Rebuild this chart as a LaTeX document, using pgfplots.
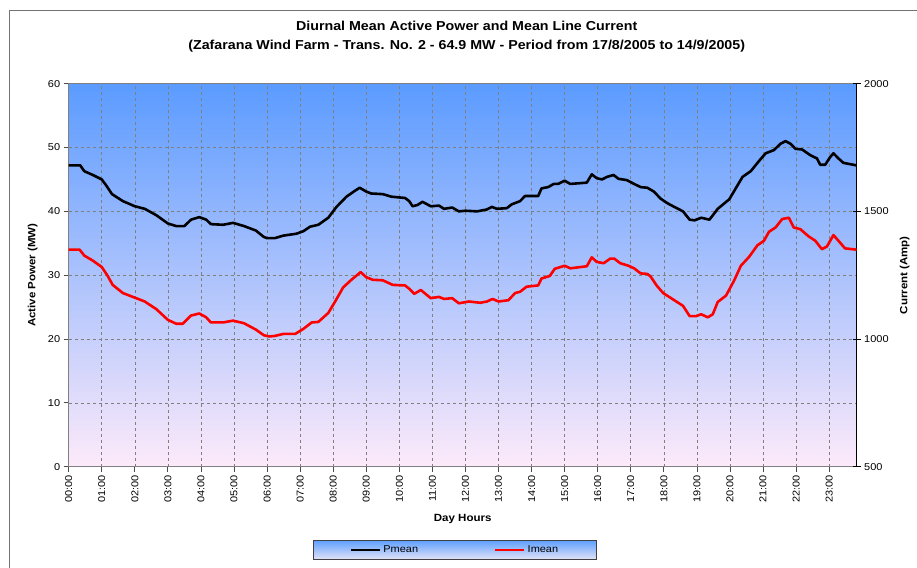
\documentclass[border=0pt]{standalone}
\usepackage{pgfplots}
\pgfplotsset{compat=1.18}
\usepackage{pgfplotstable}
\usepackage{fontspec}
\setmainfont{Liberation Sans}[FakeStretch=1.1]
\definecolor{bgtop}{RGB}{91,155,255}
\definecolor{bgmid}{RGB}{135,192,252}
\definecolor{bgbot}{RGB}{253,234,250}
\definecolor{lgtop}{RGB}{95,160,255}
\definecolor{lgbot}{RGB}{228,228,246}
\definecolor{gridgray}{RGB}{128,128,128}

\pgfplotstableread{
h P
0 47.2
0.35 47.2
0.47 46.3
0.73 45.7
1.0 45.0
1.13 44.1
1.31 42.7
1.64 41.6
2.0 40.8
2.3 40.4
2.65 39.4
3.0 38.1
3.25 37.7
3.5 37.7
3.7 38.7
3.95 39.1
4.16 38.7
4.3 38.0
4.67 37.9
4.97 38.2
5.3 37.7
5.66 37.0
5.9 36.0
6.0 35.8
6.23 35.8
6.49 36.2
6.89 36.5
7.1 36.9
7.3 37.6
7.55 37.9
7.85 39.0
8.1 40.7
8.4 42.3
8.65 43.2
8.8 43.7
9.0 43.1
9.15 42.8
9.5 42.7
9.76 42.3
10.17 42.1
10.3 41.6
10.4 40.8
10.55 41.0
10.7 41.5
10.95 40.8
11.2 40.9
11.35 40.4
11.6 40.6
11.8 40.0
12.0 40.1
12.35 40.0
12.65 40.3
12.8 40.7
12.95 40.4
13.25 40.5
13.4 41.1
13.65 41.6
13.8 42.4
14.2 42.4
14.3 43.6
14.5 43.8
14.67 44.3
14.8 44.3
15.0 44.8
15.17 44.3
15.67 44.5
15.82 45.8
15.97 45.2
16.13 45.0
16.28 45.4
16.48 45.7
16.63 45.1
16.88 44.9
17.1 44.3
17.3 43.8
17.5 43.7
17.7 43.1
17.9 42.0
18.1 41.3
18.28 40.8
18.58 40.0
18.78 38.7
18.93 38.6
19.13 39.0
19.38 38.7
19.63 40.4
19.98 41.9
20.38 45.4
20.63 46.3
20.88 47.9
21.08 49.1
21.33 49.6
21.53 50.6
21.68 51.0
21.83 50.6
21.98 49.8
22.18 49.7
22.43 48.8
22.63 48.3
22.73 47.3
22.88 47.3
23.03 48.5
23.13 49.1
23.28 48.3
23.43 47.6
23.8333 47.2
}\pmean

\pgfplotstableread{
h I
0 1350
0.33 1350
0.47 1327
0.73 1307
1.0 1282
1.18 1247
1.33 1212
1.64 1180
2.0 1162
2.3 1147
2.65 1117
3.0 1075
3.25 1060
3.45 1060
3.7 1092
3.95 1100
4.16 1085
4.3 1065
4.67 1065
4.97 1072
5.3 1062
5.66 1037
5.9 1015
6.06 1010
6.23 1012
6.49 1020
6.85 1020
7.1 1040
7.35 1065
7.55 1067
7.85 1102
8.05 1145
8.3 1202
8.55 1232
8.83 1262
9.0 1242
9.2 1232
9.5 1230
9.8 1212
10.17 1210
10.3 1197
10.45 1177
10.65 1192
10.95 1160
11.2 1165
11.35 1157
11.6 1160
11.8 1140
12.1 1147
12.45 1142
12.65 1147
12.82 1157
13.0 1147
13.3 1152
13.5 1180
13.65 1185
13.85 1205
14.2 1210
14.3 1237
14.55 1247
14.7 1275
15.0 1287
15.17 1277
15.67 1285
15.82 1320
15.97 1302
16.18 1297
16.38 1315
16.5 1315
16.68 1297
16.93 1287
17.1 1277
17.3 1257
17.5 1255
17.6 1245
17.78 1210
17.98 1180
18.28 1155
18.58 1130
18.78 1090
18.98 1090
19.13 1097
19.33 1085
19.48 1097
19.63 1145
19.88 1170
20.13 1230
20.33 1287
20.58 1322
20.83 1367
21.03 1385
21.18 1420
21.38 1437
21.58 1470
21.78 1475
21.93 1437
22.13 1430
22.38 1402
22.58 1385
22.78 1352
22.93 1362
23.13 1407
23.28 1385
23.48 1355
23.8333 1350
}\imean

\begin{document}
\begin{tikzpicture}
\path[use as bounding box] (-68.7bp,-101.3bp) rectangle (848.3bp,466.7bp);
\draw[black!55, line width=0.8bp] (-59.7bp,-101.3bp) -- (-59.7bp,456bp) -- (848.3bp,456bp);
\begin{axis}[
  at={(0,0)}, anchor=south west,
  scale only axis, width=788bp, height=383bp,
  xmin=0, xmax=23.8333, ymin=0, ymax=60,
  xtick={0,...,23},
  xticklabels={00:00,01:00,02:00,03:00,04:00,05:00,06:00,07:00,08:00,09:00,10:00,11:00,12:00,13:00,14:00,15:00,16:00,17:00,18:00,19:00,20:00,21:00,22:00,23:00},
  ytick={0,10,...,60},
  grid=major,
  major grid style={gridgray, dash pattern=on 3bp off 3bp, line width=0.6bp},
  axis background/.style={top color=bgtop, middle color=bgmid, bottom color=bgbot},
  axis line style={gridgray, line width=0.8bp},
  tick style={black!70, line width=0.8bp},
  tick align=outside, tick pos=left, major tick length=5bp,
  /pgf/number format/assume math mode=true,
  ticklabel style={font=\fontsize{10}{12}\selectfont},
  xticklabel style={rotate=90, anchor=east},
  every axis y label/.style={at={(axis description cs:0,0.5)}, xshift=-36bp, rotate=90, anchor=center, font=\fontsize{10.5}{12}\selectfont\bfseries},
  ylabel={Active Power (MW)},
  every axis x label/.style={at={(axis description cs:0.5,0)}, yshift=-52bp, anchor=center, font=\fontsize{10.5}{12}\selectfont\bfseries},
  xlabel={Day Hours},
  title={Diurnal Mean Active Power and Mean Line Current\\(Zafarana Wind Farm - Trans. No. 2 - 64.9 MW - Period from 17/8/2005 to 14/9/2005)},
  title style={at={(axis description cs:0.5,1)}, anchor=center, xshift=4bp, yshift=41bp, align=center, font=\fontsize{13}{19}\selectfont\bfseries},
  legend columns=2,
  legend image code/.code={\draw[#1] (0bp,0bp) -- (29bp,0bp);},
  legend style={at={(0.4902,-0.2175)}, anchor=center, draw=black!75, line width=0.8bp,
    top color=lgtop, bottom color=lgbot, inner xsep=36bp, inner ysep=3.5bp,
    font=\fontsize{10}{12}\selectfont,
    /tikz/every even column/.append style={column sep=74bp}},
]
\addplot[black, line width=2.6bp, line join=round] table[x=h,y=P]{\pmean};
\addlegendentry{Pmean}
\addlegendimage{red, line width=2.6bp}
\addlegendentry{Imean}
\end{axis}
\begin{axis}[
  at={(0,0)}, anchor=south west,
  scale only axis, width=788bp, height=383bp,
  xmin=0, xmax=23.8333, ymin=500, ymax=2000,
  axis x line=none, axis y line*=right,
  ytick={500,1000,1500,2000},
  axis line style={black, line width=0.8bp},
  tick style={black, line width=0.8bp},
  tick align=center, major tick length=8bp,
  /pgf/number format/assume math mode=true,
  /pgf/number format/1000 sep={},
  ticklabel style={font=\fontsize{10}{12}\selectfont},
  every axis y label/.style={at={(axis description cs:1,0.5)}, xshift=48bp, rotate=90, anchor=center, font=\fontsize{10.5}{12}\selectfont\bfseries},
  ylabel={Current (Amp)},
]
\addplot[red, line width=2.6bp, line join=round] table[x=h,y=I]{\imean};
\end{axis}
\end{tikzpicture}
\end{document}
